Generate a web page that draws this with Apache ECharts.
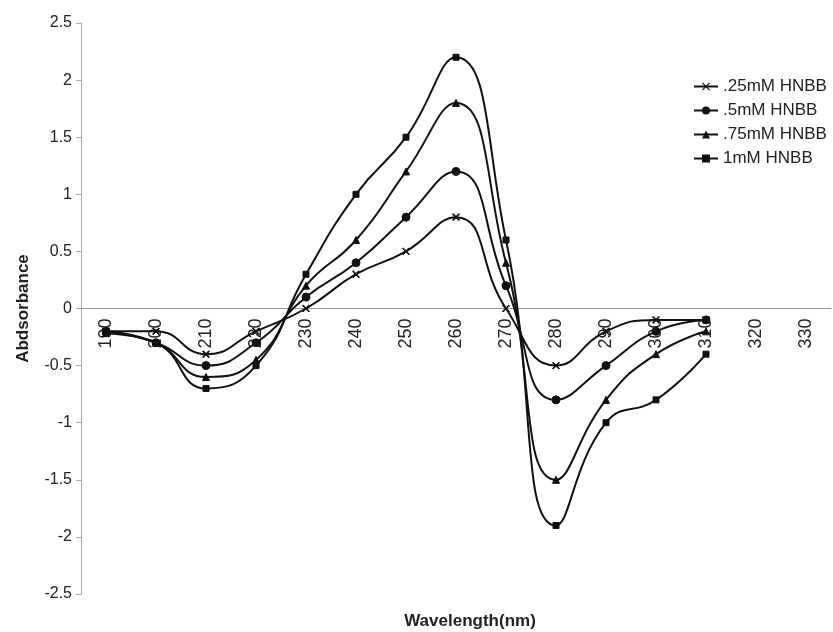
<!DOCTYPE html>
<html>
<head>
<meta charset="utf-8">
<script src="https://cdn.jsdelivr.net/npm/echarts@6/dist/echarts.min.js"></script>
<style>html,body{margin:0;padding:0;background:#fff;}#chart{width:833px;height:632px;}</style>
</head>
<body>
<div id="chart"></div>
<script>
const categories = ['190','200','210','220','230','240','250','260','270','280','290','300','310','320','330'];
const seriesNames = ['.25mM HNBB', '.5mM HNBB', '.75mM HNBB', '1mM HNBB'];
const s025 = [-0.2, -0.2, -0.4, -0.2, 0.0, 0.3, 0.5, 0.8, 0.0, -0.5, -0.2, -0.1, -0.1, null, null];
const s05  = [-0.2, -0.3, -0.5, -0.3, 0.1, 0.4, 0.8, 1.2, 0.2, -0.8, -0.5, -0.2, -0.1, null, null];
const s075 = [-0.2, -0.3, -0.6, -0.45, 0.2, 0.6, 1.2, 1.8, 0.4, -1.5, -0.8, -0.4, -0.2, null, null];
const s1   = [-0.22, -0.3, -0.7, -0.5, 0.3, 1.0, 1.5, 2.2, 0.6, -1.9, -1.0, -0.8, -0.4, null, null];
const yTicks = {min: -2.5, max: 2.5, interval: 0.5};

const xMark = 'path://M0,1L1,0L5,4L9,0L10,1L6,5L10,9L9,10L5,6L1,10L0,9L4,5Z';
const symbols = [xMark, 'circle', 'triangle', 'rect'];
const symSizes = [7, 8, 7, 6];
const allData = [s025, s05, s075, s1];

const gridTop = 23, gridBottom = 38, H = 632;
const zeroOffset = -((H - gridTop - gridBottom) * (0 - yTicks.min) / (yTicks.max - yTicks.min));

const FONT = 'Liberation Sans, Arial, sans-serif';
const chart = echarts.init(document.getElementById('chart'));
chart.setOption({
  backgroundColor: '#fff',
  animation: false,
  textStyle: {fontFamily: FONT},
  grid: {left: 81, right: 2, top: gridTop, bottom: gridBottom, containLabel: false},
  legend: {
    orient: 'vertical', left: 688, top: 73, itemGap: 7, itemWidth: 24, itemHeight: 10,
    textStyle: {fontSize: 17, color: '#222', fontFamily: FONT},
    data: seriesNames
  },
  xAxis: {
    type: 'category', data: categories, boundaryGap: true, position: 'bottom',
    offset: zeroOffset,
    axisLine: {onZero: false, lineStyle: {color: '#999', width: 1}},
    axisTick: {show: false},
    axisLabel: {rotate: 90, fontSize: 18, color: '#222', margin: 10, fontFamily: FONT},
    splitLine: {show: false}
  },
  yAxis: {
    type: 'value', min: yTicks.min, max: yTicks.max, interval: yTicks.interval,
    name: 'Abdsorbance', nameLocation: 'middle', nameGap: 49, nameRotate: 90,
    nameTextStyle: {fontSize: 17, fontWeight: 'bold', color: '#222', fontFamily: FONT},
    axisLine: {show: true, lineStyle: {color: '#aaa'}},
    axisTick: {show: true, inside: false, length: 5, lineStyle: {color: '#aaa'}},
    axisLabel: {fontSize: 16, color: '#222', margin: 9, fontFamily: FONT},
    splitLine: {show: false}
  },
  graphic: [{
    type: 'text', x: 470, y: 621,
    style: {text: 'Wavelength(nm)', fontSize: 17, fontWeight: 'bold', fill: '#222', align: 'center', verticalAlign: 'middle', fontFamily: FONT}
  }],
  series: seriesNames.map((n, i) => ({
    name: n, type: 'line', data: allData[i], smooth: 0.5,
    symbol: symbols[i], symbolSize: symSizes[i], showSymbol: true,
    lineStyle: {color: '#111', width: 2},
    itemStyle: {color: '#111', borderColor: '#111'},
    connectNulls: false
  }))
});
</script>
</body>
</html>
